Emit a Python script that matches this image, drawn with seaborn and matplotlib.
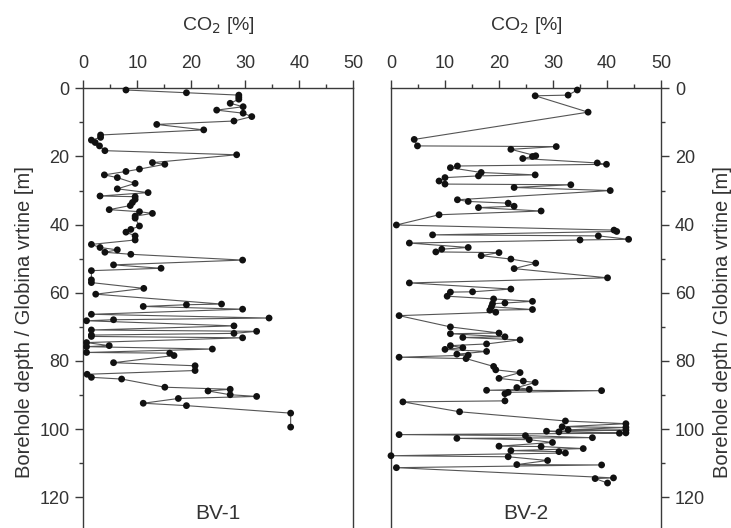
import matplotlib
matplotlib.use("Agg")
import matplotlib.pyplot as plt
import seaborn as sns
import pandas as pd
from matplotlib.ticker import MultipleLocator

sns.set_theme(style="white")
plt.rcParams['font.family'] = ['Liberation Sans', 'DejaVu Sans']

bv1_depth = [0.5, 1.3, 2.0, 2.6, 3.2, 4.4, 5.4, 6.4, 7.3, 8.3, 9.6, 10.6, 12.2, 13.7, 14.4,
             15.2, 15.9, 16.9, 18.3, 19.5, 21.8, 22.3, 23.7, 24.4, 25.4, 26.2, 27.9, 29.5,
             30.6, 31.6, 31.8, 32.6, 33.5, 34.4, 35.6, 36.2, 36.7, 37.5, 38.1, 40.4, 41.4,
             42.2, 43.3, 44.5, 45.8, 46.7, 47.4, 48.1, 48.7, 50.4, 51.8, 52.8, 53.5, 56.2,
             57.0, 58.7, 60.4, 63.3, 63.5, 64.0, 64.8, 66.3, 67.4, 67.9, 68.2, 69.7, 70.9,
             71.3, 71.9, 72.4, 72.8, 73.2, 74.6, 75.5, 75.8, 76.5, 77.5, 77.7, 78.4, 80.5,
             81.4, 82.8, 83.9, 84.8, 85.3, 87.7, 88.3, 88.8, 89.9, 90.4, 91.0, 92.4, 93.1,
             95.3, 99.4]
bv1_co2 = [7.9, 19.1, 28.8, 28.8, 28.8, 27.2, 29.6, 24.7, 29.6, 31.2, 27.9, 13.6, 22.3, 3.2, 3.2,
           1.5, 2.2, 3.0, 4.0, 28.4, 12.8, 15.1, 10.4, 7.9, 3.9, 6.3, 9.6, 6.3,
           12.0, 3.1, 9.6, 9.6, 9.1, 8.7, 4.8, 10.4, 12.8, 9.6, 9.6, 10.4, 8.8,
           7.9, 9.6, 9.6, 1.5, 3.1, 6.3, 4.0, 8.8, 29.5, 5.6, 14.4, 1.5, 1.5,
           1.5, 11.2, 2.3, 25.6, 19.1, 11.1, 29.5, 1.5, 34.4, 5.6, 0.6, 27.9, 1.5,
           32.1, 27.9, 1.5, 1.5, 29.5, 0.6, 4.8, 0.6, 23.9, 0.6, 16.0, 16.8, 5.6,
           20.7, 20.7, 0.7, 1.5, 7.1, 15.1, 27.2, 23.1, 27.2, 32.1, 17.6, 11.1, 19.1,
           38.4, 38.4]

bv2_depth = [0.5, 2.0, 2.2, 7.0, 15.0, 16.9, 17.1, 17.9, 19.8, 20.0, 20.6, 21.9, 22.3, 22.8,
             23.3, 24.7, 25.4, 25.7, 26.2, 27.2, 28.1, 28.3, 29.1, 30.0, 32.7, 33.2, 33.7,
             34.6, 35.0, 36.0, 37.1, 40.1, 41.6, 42.0, 43.0, 43.3, 44.3, 44.5, 45.4, 46.7,
             47.2, 48.0, 48.2, 49.1, 50.1, 51.3, 52.9, 55.6, 57.1, 58.9, 59.7, 59.8, 61.0,
             61.8, 62.5, 63.0, 63.2, 64.1, 64.9, 65.1, 65.7, 66.7, 70.0, 71.8, 72.0, 72.9,
             73.1, 73.8, 75.0, 75.5, 76.1, 76.6, 77.2, 78.0, 78.3, 78.9, 79.3, 81.6, 82.6,
             83.4, 85.1, 85.9, 86.3, 87.8, 88.3, 88.6, 88.7, 89.2, 89.6, 91.7, 92.0, 94.9,
             97.6, 98.4, 99.3, 99.5, 100.2, 100.3, 100.6, 100.8, 101.1, 101.2, 101.6, 101.9,
             102.5, 102.7, 103.1, 103.9, 105.0, 105.1, 105.7, 106.3, 106.6, 107.0, 107.8,
             108.1, 109.2, 110.4, 110.5, 111.3, 114.3, 114.5, 115.8]
bv2_co2 = [34.5, 32.8, 26.7, 36.5, 4.3, 4.9, 30.6, 22.2, 26.8, 26.2, 24.4, 38.2, 39.9, 12.3,
           11.0, 16.7, 26.7, 16.2, 10.0, 8.9, 10.0, 33.3, 22.8, 40.6, 12.3, 14.3, 21.7,
           22.8, 16.2, 27.8, 8.9, 1.0, 41.3, 41.8, 7.7, 38.4, 44.0, 35.0, 3.4, 14.3,
           9.4, 8.3, 20.0, 16.7, 22.2, 26.8, 22.8, 40.1, 3.4, 22.2, 15.1, 11.0, 10.4,
           19.0, 26.2, 21.1, 18.8, 18.6, 26.2, 18.3, 19.4, 1.5, 11.0, 20.0, 11.0, 21.1,
           13.3, 23.9, 17.7, 11.0, 13.3, 10.0, 17.7, 12.2, 14.3, 1.5, 13.9, 19.0, 19.4,
           23.9, 20.0, 24.5, 26.7, 23.3, 25.6, 17.7, 39.0, 21.7, 21.1, 21.1, 2.2, 12.7,
           32.3, 43.5, 31.7, 43.5, 32.8, 43.5, 28.8, 31.1, 43.5, 42.3, 1.5, 24.9,
           37.3, 12.2, 25.6, 29.9, 20.0, 27.8, 35.6, 22.2, 31.1, 32.3, 0.0,
           21.7, 29.0, 23.3, 39.0, 1.0, 41.2, 37.8, 40.1]

panels = [("BV-1", bv1_depth, bv1_co2), ("BV-2", bv2_depth, bv2_co2)]
y_ticks = [0, 20, 40, 60, 80, 100, 120]
x_ticks = [0, 10, 20, 30, 40, 50]
ylabel = "Borehole depth / Globina vrtine [m]"

fig = plt.figure(figsize=(7.31, 5.28), dpi=100)
W, H = 731, 528
lefts = [83.3, 391.0]
ax_w = 270.0
top_px = 88.3
spine_c = "#3a3a3a"
txt_c = "#333333"

for i, (name, dep, co2) in enumerate(panels):
    ax = fig.add_axes([lefts[i] / W, 0.0, ax_w / W, (H - top_px) / H])
    df = pd.DataFrame({"depth": dep, "co2": co2})
    sns.lineplot(data=df, x="co2", y="depth", sort=False, estimator=None,
                 color="#555555", linewidth=0.8, ax=ax)
    sns.scatterplot(data=df, x="co2", y="depth", color="#111111", s=24,
                    edgecolor="none", ax=ax, zorder=3, clip_on=False)
    ax.set_xlim(0, 50)
    ax.set_ylim(129, 0)
    ax.xaxis.set_ticks_position("top")
    ax.xaxis.set_label_position("top")
    ax.set_xticks(x_ticks)
    ax.set_yticks(y_ticks)
    ax.xaxis.set_minor_locator(MultipleLocator(5))
    ax.yaxis.set_minor_locator(MultipleLocator(10))
    ax.set_xlabel("CO$_2$ [%]", fontsize=14, color=txt_c, labelpad=18)
    if i == 0:
        ax.yaxis.set_ticks_position("left")
        ax.yaxis.set_label_position("left")
        lp = 4
    else:
        ax.yaxis.set_ticks_position("right")
        ax.yaxis.set_label_position("right")
        lp = 5.5
    ax.set_ylabel(ylabel, fontsize=14.5, color=txt_c, rotation=90, labelpad=lp)
    ax.yaxis.label.set_y(0.468)
    ax.tick_params(which="major", direction="out", length=6, width=1.0,
                   colors=spine_c, labelcolor=txt_c, labelsize=13, pad=4)
    ax.tick_params(axis="x", which="major", pad=6)
    ax.tick_params(which="minor", direction="out", length=3, width=1.0, colors=spine_c)
    for s in ["left", "right", "top"]:
        ax.spines[s].set_visible(True)
        ax.spines[s].set_color(spine_c)
        ax.spines[s].set_linewidth(1.0)
    ax.spines["bottom"].set_visible(False)
    ax.text(25, 124.6, name, ha="center", va="center", fontsize=15, color=txt_c)

fig.savefig("out.png", dpi=100)
